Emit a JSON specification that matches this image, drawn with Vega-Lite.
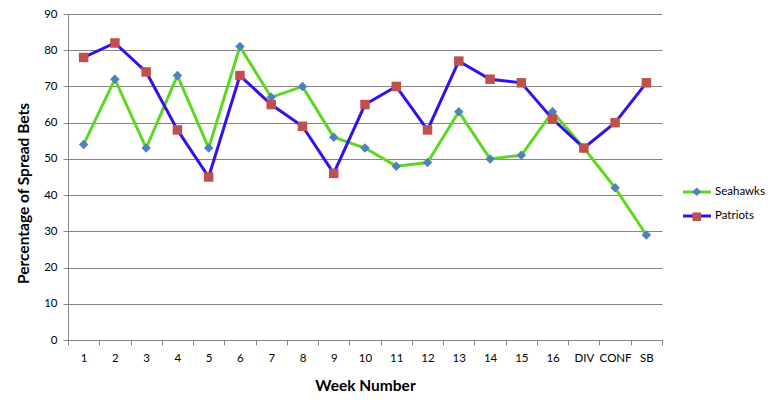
{
  "$schema": "https://vega.github.io/schema/vega-lite/v6.json",
  "width": 594,
  "height": 326,
  "autosize": {"type": "none"},
  "padding": {"left": 68, "top": 14, "right": 117, "bottom": 68},
  "background": "white",
  "config": {
    "view": {"stroke": null},
    "font": "Lato",
    "axis": {
      "domainColor": "#868686",
      "tickColor": "#868686",
      "gridColor": "#868686",
      "tickSize": 5,
      "labelFont": "Lato",
      "labelFontSize": 11.5,
      "labelColor": "#000000",
      "titleFont": "Lato",
      "titleFontSize": 15.5,
      "titleFontWeight": "bold",
      "titleColor": "#000000"
    },
    "legend": {
      "orient": "none",
      "legendX": 623,
      "legendY": 172,
      "title": null,
      "symbolSize": 75,
      "labelFont": "Lato",
      "labelFontSize": 11.5,
      "labelColor": "#000000",
      "labelOffset": 12,
      "rowPadding": 12
    }
  },
  "data": {
    "values": [
      {"week": "1", "team": "Seahawks", "pct": 54},
      {"week": "2", "team": "Seahawks", "pct": 72},
      {"week": "3", "team": "Seahawks", "pct": 53},
      {"week": "4", "team": "Seahawks", "pct": 73},
      {"week": "5", "team": "Seahawks", "pct": 53},
      {"week": "6", "team": "Seahawks", "pct": 81},
      {"week": "7", "team": "Seahawks", "pct": 67},
      {"week": "8", "team": "Seahawks", "pct": 70},
      {"week": "9", "team": "Seahawks", "pct": 56},
      {"week": "10", "team": "Seahawks", "pct": 53},
      {"week": "11", "team": "Seahawks", "pct": 48},
      {"week": "12", "team": "Seahawks", "pct": 49},
      {"week": "13", "team": "Seahawks", "pct": 63},
      {"week": "14", "team": "Seahawks", "pct": 50},
      {"week": "15", "team": "Seahawks", "pct": 51},
      {"week": "16", "team": "Seahawks", "pct": 63},
      {"week": "DIV", "team": "Seahawks", "pct": 53},
      {"week": "CONF", "team": "Seahawks", "pct": 42},
      {"week": "SB", "team": "Seahawks", "pct": 29},
      {"week": "1", "team": "Patriots", "pct": 78},
      {"week": "2", "team": "Patriots", "pct": 82},
      {"week": "3", "team": "Patriots", "pct": 74},
      {"week": "4", "team": "Patriots", "pct": 58},
      {"week": "5", "team": "Patriots", "pct": 45},
      {"week": "6", "team": "Patriots", "pct": 73},
      {"week": "7", "team": "Patriots", "pct": 65},
      {"week": "8", "team": "Patriots", "pct": 59},
      {"week": "9", "team": "Patriots", "pct": 46},
      {"week": "10", "team": "Patriots", "pct": 65},
      {"week": "11", "team": "Patriots", "pct": 70},
      {"week": "12", "team": "Patriots", "pct": 58},
      {"week": "13", "team": "Patriots", "pct": 77},
      {"week": "14", "team": "Patriots", "pct": 72},
      {"week": "15", "team": "Patriots", "pct": 71},
      {"week": "16", "team": "Patriots", "pct": 61},
      {"week": "DIV", "team": "Patriots", "pct": 53},
      {"week": "CONF", "team": "Patriots", "pct": 60},
      {"week": "SB", "team": "Patriots", "pct": 71}
    ]
  },
  "encoding": {
    "x": {
      "field": "week",
      "type": "nominal",
      "sort": ["1", "2", "3", "4", "5", "6", "7", "8", "9", "10", "11", "12", "13", "14", "15", "16", "DIV", "CONF", "SB"],
      "scale": {"type": "band", "paddingInner": 0, "paddingOuter": 0},
      "bandPosition": 0.5,
      "title": "Week Number",
      "axis": {"labelAngle": 0, "tickBand": "extent", "labelPadding": 7, "titlePadding": 15, "grid": false}
    },
    "y": {
      "field": "pct",
      "type": "quantitative",
      "scale": {"domain": [0, 90], "nice": false},
      "title": "Percentage of Spread Bets",
      "axis": {"values": [0, 10, 20, 30, 40, 50, 60, 70, 80, 90], "grid": true, "labelPadding": 6, "titlePadding": 12, "titleY": 179}
    }
  },
  "layer": [
    {
      "mark": {"type": "line", "strokeWidth": 3},
      "encoding": {
        "stroke": {
          "field": "team",
          "type": "nominal",
          "scale": {"domain": ["Seahawks", "Patriots"], "range": ["#5bd81f", "#3311ee"]},
          "legend": {
            "symbolType": "M-3.23,0H3.23",
            "symbolStrokeWidth": 3
          }
        }
      }
    },
    {
      "mark": {"type": "point", "filled": true, "opacity": 1, "size": 90},
      "encoding": {
        "color": {
          "field": "team",
          "type": "nominal",
          "sort": "descending",
          "scale": {"range": ["#4f81bd", "#c0504d"]},
          "legend": {"labelOpacity": 0}
        },
        "shape": {
          "field": "team",
          "type": "nominal",
          "sort": "descending",
          "scale": {"range": ["diamond", "square"]},
          "legend": {"labelOpacity": 0}
        }
      }
    }
  ]
}
